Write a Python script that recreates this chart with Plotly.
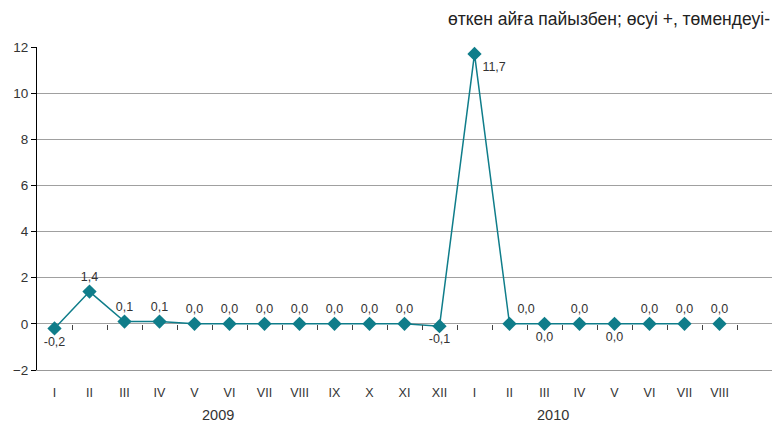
import plotly.graph_objects as go

months = ["I", "II", "III", "IV", "V", "VI", "VII", "VIII", "IX", "X", "XI", "XII",
          "I", "II", "III", "IV", "V", "VI", "VII", "VIII"]
years = ["2009", "2010"]
values = [-0.2, 1.4, 0.1, 0.1, 0.0, 0.0, 0.0, 0.0, 0.0, 0.0, 0.0, -0.1,
          11.7, 0.0, 0.0, 0.0, 0.0, 0.0, 0.0, 0.0]
label_pos = ["bottom center", "top center", "top center", "top center", "top center",
             "top center", "top center", "top center", "top center", "top center",
             "top center", "bottom center", "bottom right", "top right", "bottom center",
             "top center", "bottom center", "top center", "top center", "top center"]
title_text = "өткен айға пайызбен; өсуі +, төмендеуі-"

idx = list(range(len(months)))
labels = [f"{v:.1f}".replace(".", ",") for v in values]
teal = "#0F7D8A"
n_line = 19  # line runs through 2010 VII; VIII is an unconnected point
lab_font = dict(size=12.5, color="#333333", family="Liberation Sans, Arial")

fig = go.Figure()
fig.add_trace(go.Scatter(
    x=idx[:n_line], y=values[:n_line], mode="lines+markers+text",
    text=labels[:n_line], textposition=label_pos[:n_line], textfont=lab_font,
    line=dict(color=teal, width=1.5),
    marker=dict(symbol="diamond", size=11, color=teal),
    cliponaxis=False, showlegend=False))
fig.add_trace(go.Scatter(
    x=idx[n_line:], y=values[n_line:], mode="markers+text",
    text=labels[n_line:], textposition=label_pos[n_line:], textfont=lab_font,
    marker=dict(symbol="diamond", size=11, color=teal),
    cliponaxis=False, showlegend=False))
# dummy trace for tick axis at zero
fig.add_trace(go.Scatter(x=[idx[0]], y=[None], xaxis="x2", showlegend=False, hoverinfo="skip"))

fig.update_layout(
    width=776, height=425,
    margin=dict(l=37, r=4, t=47, b=55),
    paper_bgcolor="white", plot_bgcolor="white",
    font=dict(family="Liberation Sans, Arial", color="#333333"),
    xaxis=dict(range=[-0.5, 20.5], tickmode="array", tickvals=idx, ticktext=months,
               showgrid=False, zeroline=False, showline=True, linecolor="#999999",
               ticks="", tickfont=dict(size=12.5, family="Liberation Sans Narrow, Liberation Sans, Arial"),
               ticklabelstandoff=11, automargin=False),
    xaxis2=dict(overlaying="x", matches="x", anchor="free", position=2/14,
                tickmode="array", tickvals=[i + 0.5 for i in idx],
                ticks="outside", ticklen=5, tickcolor="#444444",
                showticklabels=False, showgrid=False, zeroline=False, showline=False),
    yaxis=dict(range=[-2, 12], dtick=2, showgrid=True, gridcolor="#A0A0A0", gridwidth=1,
               zeroline=True, zerolinecolor="#A0A0A0", zerolinewidth=1,
               showline=True, linecolor="#000000", linewidth=1,
               ticks="outside", ticklen=5, tickcolor="#000000", automargin=False,
               tickfont=dict(size=13.5, color="#333333")),
    annotations=[
        dict(text=title_text, xref="paper", yref="paper", x=1.0, y=1.0, xanchor="right",
             yanchor="bottom", yshift=16, showarrow=False,
             font=dict(size=17.5, color="#222222")),
        dict(text=years[0], xref="x", yref="paper", x=4.68, y=0, yshift=-45,
             yanchor="middle", showarrow=False, font=dict(size=14.5, family="Liberation Sans Narrow, Liberation Sans, Arial")),
        dict(text=years[1], xref="x", yref="paper", x=14.25, y=0, yshift=-45,
             yanchor="middle", showarrow=False, font=dict(size=14.5, family="Liberation Sans Narrow, Liberation Sans, Arial")),
    ],
)
fig.write_html("out.html", config={"displayModeBar": False},
               post_script="document.body.style.margin='0';")
